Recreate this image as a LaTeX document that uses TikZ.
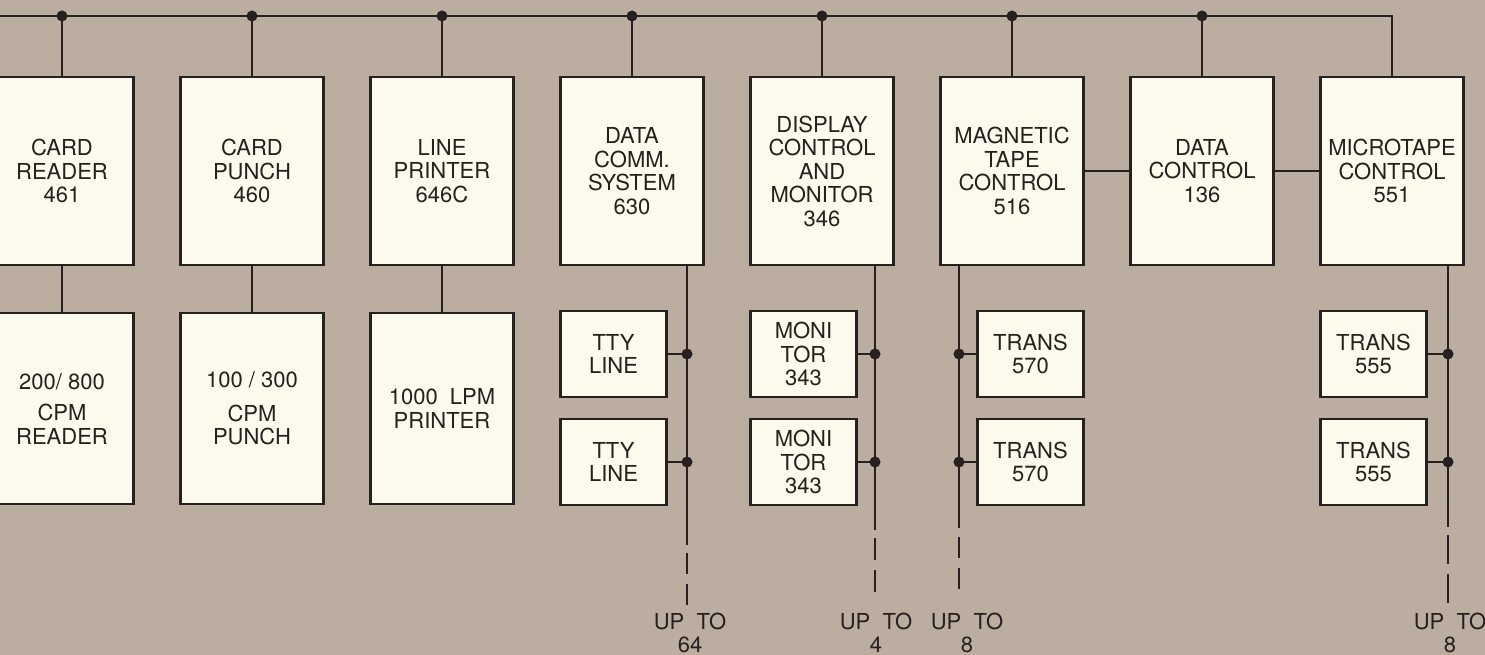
\documentclass[tikz,border=0pt]{standalone}
\usepackage{fontspec}
\setmainfont{TeX Gyre Heros}
\usetikzlibrary{positioning}
\definecolor{paper}{RGB}{187,173,160}
\definecolor{card}{RGB}{251,250,236}
\definecolor{ink}{RGB}{38,32,30}

\begin{document}
\begin{tikzpicture}[x=1pt,y=-1pt,node distance=44.6pt]
  \tikzset{unit/.style={draw=ink,line width=2.4pt,fill=card,minimum width=143pt,minimum height=188pt,inner sep=2pt,align=center,text=ink,font=\fontsize{22}{23.5}\selectfont}}
  \tikzset{big/.style={unit,minimum height=191pt}}
  \tikzset{small/.style={unit,minimum width=106pt,minimum height=86pt}}
  \tikzset{wire/.style={draw=ink,line width=1.7pt}}
  \tikzset{tail/.style={wire,dash pattern=on #1 off 10pt},tail/.default=21pt}
  \tikzset{dot/.style={circle,fill=ink,inner sep=0pt,minimum size=11pt}}
  \tikzset{upto/.style={align=center,inner sep=0pt,anchor=north,text=ink,font=\fontsize{22}{23}\selectfont}}
  \fill[paper] (0,0) rectangle (1485,655);
  \useasboundingbox (0,0) rectangle (1485,655);
  % controllers on the bus
  \node[unit] (reader) at (62,171) {CARD\\READER\\461};
  \node[unit,right=of reader] (punch) {CARD\\PUNCH\\460};
  \node[unit,right=of punch] (printer) {LINE\\PRINTER\\646C};
  \node[unit,right=of printer] (comm) {DATA\\COMM.\\SYSTEM\\630};
  \node[unit,right=of comm] (display) {DISPLAY\\CONTROL\\AND\\MONITOR\\346};
  \node[unit,right=of display] (mag) {MAGNETIC\\TAPE\\CONTROL\\516};
  \node[unit,right=of mag] (data) {DATA\\CONTROL\\136};
  \node[unit,right=of data] (micro) {MICROTAPE\\CONTROL\\551};
  % devices
  \node[big,below=45.6pt of reader] (readerlow) {200/ 800\\[8pt]CPM\\READER};
  \node[big,below=45.6pt of punch] (punchlow) {100 / 300\\[10pt]CPM\\PUNCH};
  \node[big,below=45.6pt of printer] (printerlow) {1000 \ LPM\\PRINTER};
  \node[small,below right=43.6pt and 0pt of comm.south west] (tty1) {TTY\\LINE};
  \node[small,below=19.6pt of tty1] (tty2) {TTY\\LINE};
  \node[small,below right=43.6pt and 0pt of display.south west] (mon1) {MONI\\TOR\\343};
  \node[small,below=19.6pt of mon1] (mon2) {MONI\\TOR\\343};
  \node[small,below left=43.6pt and 0pt of mag.south east] (trans1) {TRANS\\570};
  \node[small,below=19.6pt of trans1] (trans2) {TRANS\\570};
  \node[small,below right=43.6pt and 0pt of micro.south west] (trans3) {TRANS\\555};
  \node[small,below=19.6pt of trans3] (trans4) {TRANS\\555};
  % main bus
  \coordinate (busleft) at (0,16);
  \draw[wire] (busleft) -| (micro.north);
  \draw[wire] (reader.north) -- (reader.north |- busleft) node[dot] {};
  \draw[wire] (punch.north) -- (punch.north |- busleft) node[dot] {};
  \draw[wire] (printer.north) -- (printer.north |- busleft) node[dot] {};
  \draw[wire] (comm.north) -- (comm.north |- busleft) node[dot] {};
  \draw[wire] (display.north) -- (display.north |- busleft) node[dot] {};
  \draw[wire] (mag.north) -- (mag.north |- busleft) node[dot] {};
  \draw[wire] (data.north) -- (data.north |- busleft) node[dot] {};
  \draw[wire] (reader) -- (readerlow);
  \draw[wire] (punch) -- (punchlow);
  \draw[wire] (printer) -- (printerlow);
  \draw[wire] (mag) -- (data);
  \draw[wire] (data) -- (micro);
  % line buses
  \coordinate (commtap) at (687,545);
  \draw[wire] (comm.south -| commtap) -- (commtap);
  \draw[wire] (tty1) -- (tty1 -| commtap) node[dot] {};
  \draw[wire] (tty2) -- (tty2 -| commtap) node[dot] {};
  \draw[tail] ([yshift=-8pt]commtap) -- ([yshift=-60pt]commtap);
  \node[upto] (commmax) at (690,613) {UP\ \ TO\\64};
  \coordinate (disptap) at (875,530);
  \draw[wire] (display.south -| disptap) -- (disptap);
  \draw[wire] (mon1) -- (mon1 -| disptap) node[dot] {};
  \draw[wire] (mon2) -- (mon2 -| disptap) node[dot] {};
  \draw[tail=22pt] ([yshift=-8pt]disptap) -- ([yshift=-62pt]disptap);
  \node[upto] (dispmax) at (876,613) {UP\ \ TO\\4};
  \coordinate (magtap) at (959,528);
  \draw[wire] (mag.south -| magtap) -- (magtap);
  \draw[wire] (trans1) -- (trans1 -| magtap) node[dot] {};
  \draw[wire] (trans2) -- (trans2 -| magtap) node[dot] {};
  \draw[tail] ([yshift=-9pt]magtap) -- ([yshift=-61pt]magtap);
  \node[upto] (magmax) at (967,613) {UP\ \ TO\\8};
  \coordinate (microtap) at (1448,527);
  \draw[wire] (micro.south -| microtap) -- (microtap);
  \draw[wire] (trans3) -- (trans3 -| microtap) node[dot] {};
  \draw[wire] (trans4) -- (trans4 -| microtap) node[dot] {};
  \draw[tail=29pt] ([yshift=-8pt]microtap) -- ([yshift=-76pt]microtap);
  \node[upto] (micromax) at (1450,613) {UP\ \ TO\\8};
\end{tikzpicture}
\end{document}
